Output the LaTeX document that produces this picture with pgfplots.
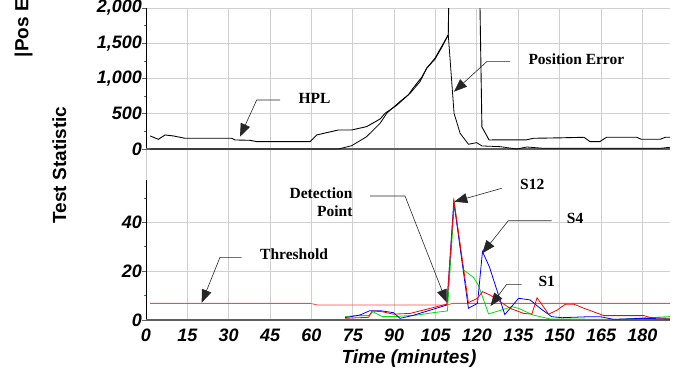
\documentclass[border=0pt]{standalone}
\usepackage{fontspec}
\setmainfont{Liberation Sans}
\newfontfamily\tnr{Liberation Serif}
\usepackage{pgfplots}
\pgfplotsset{compat=1.18}
\usetikzlibrary{arrows.meta}
\definecolor{gridc}{RGB}{208,208,208}
\definecolor{axc}{RGB}{95,95,95}
\definecolor{sred}{RGB}{255,0,0}
\definecolor{sblue}{RGB}{0,0,255}
\definecolor{sgreen}{RGB}{0,225,0}
\definecolor{thr}{RGB}{255,70,70}
\newcommand\tickfont{\fontsize{18}{18}\selectfont\bfseries\itshape}
\newcommand\annfont{\tnr\bfseries\fontsize{15.5}{18}\selectfont}

\pgfplotstableread{
x y
1.5 185
4.5 137
6.9 199
9.9 185
14.1 152
31.1 152
32.3 128
37.7 123
40.2 104
59.5 104
61.9 199
69.8 270
74.6 270
80 317
84.9 426
86.7 507
90.9 620
95.1 767
97 871
100 1018
101.8 1147
104.8 1288
107.2 1453
109.6 1620
110.1 3000
120.7 3000
121.8 313
124.4 128
138 130
140.5 152
150 158
158.8 166
161 104
164.5 104
167 166
178 166
179.5 138
186.5 138
188.3 166
190 166
}\hpl

\pgfplotstableread{
x y
1.5 0
69.8 0
74.6 47
80 175
84.9 365
87.3 507
92.1 673
95.8 791
99.4 957
101.8 1147
104.8 1275
107.2 1438
109.6 1620
111.7 507
113.9 223
116.9 67
119.9 90
121.8 43
128.4 33
134.4 0
138.1 28
144.1 10
186.5 10
190 24
}\poserr

\pgfplotstableread{
x y
1.5 6.8
59.5 6.8
62.5 6.1
109.3 6.1
111 6.8
190 6.8
}\thresh

\pgfplotstableread{
x y
72.2 0.95
77.6 2.05
81.2 3.82
84.9 3.82
89.7 3.0
92.1 0.68
96.9 1.9
109.1 6.14
111.6 48.5
116.9 4.8
120.2 6.8
122 28
124.5 21.8
130.1 2.2
135.1 8.9
139.3 8.2
142.9 4.8
147.1 1.36
150.8 0.95
161 1.36
164.7 1.36
169.5 0.27
180.4 0.68
190 0.41
}\sfour

\pgfplotstableread{
x y
72.2 0.7
80.7 1.1
82 3.7
85.6 3.4
89.7 2.4
95.8 2.7
109.1 6.5
111.7 48.6
116.9 7.1
120.2 8.9
122 11.6
124.8 10.2
132 4.8
136.9 2.7
139.9 2.4
141.8 9.1
146 2.4
149 4.0
152 6.4
155.1 6.5
158.8 4.8
166 1.8
180.5 1.8
182.9 1.0
190 0.7
}\stwelve

\pgfplotstableread{
x y
72.2 1.4
76.4 1.8
80.7 1.8
82.3 3.4
85.6 1.4
89.7 1.4
98.1 2.0
104.8 3.1
109.3 3.7
111.8 47.6
115.1 20.5
118.7 17.5
120.5 14.3
124.2 2.5
129 4.1
132.6 5.5
135 4.8
140.5 2.0
146.7 0.4
171 0.3
190 1.4
}\sone

\pgfplotsset{
  common/.style={
    scale only axis, width=524pt, anchor=south west,
    xmin=0, xmax=190,
    axis line style={draw=none},
    xtick={0,15,...,180},
    xmajorgrids, ymajorgrids,
    grid style={gridc, line width=1pt},
    tick align=outside, ytick pos=left, xtick pos=bottom,
    major tick length=4pt, minor tick length=2pt,
    tick style={axc, line width=0.5pt},
    xtick style={draw=none},
    /pgf/number format/assume math mode=true,
    yticklabel style={font=\tickfont, inner sep=0pt},
    xticklabel style={font=\tickfont, inner sep=0pt, yshift=-5pt},
  }
}

\begin{document}
\begin{tikzpicture}
\begin{axis}[common, at={(146pt,193pt)}, height=172pt,
  ymin=-440, ymax=2000,
  xticklabels={},
  ytick={0,500,1000,1500,2000},
  yticklabels={0,500,{1,000},{1,500},{2,000}},
  minor ytick={250,750,1250,1750}]
  \draw[black, line width=1pt] (axis cs:0,0) -- (axis cs:0,2000);
  \draw[axc, line width=1.1pt] (axis cs:0,0) -- (axis cs:190,0);
  \addplot[black, line width=0.8pt] table {\poserr};
  \addplot[black, line width=0.9pt] table {\hpl};
\end{axis}
\begin{axis}[common, at={(146pt,53pt)}, height=140pt,
  ymin=0, ymax=57.3,
  ytick={0,20,40},
  minor ytick={10,30,50}]
  \draw[black, line width=1pt] (axis cs:0,0) -- (axis cs:0,57.3);
  \draw[axc, line width=1.2pt] (axis cs:0,0) -- (axis cs:190,0);
  \addplot[thr, line width=0.8pt] table {\thresh};
  \addplot[sgreen, line width=0.8pt] table {\sone};
  \addplot[sblue, line width=0.8pt] table {\sfour};
  \addplot[sred, line width=0.8pt] table {\stwelve};
\end{axis}
\begin{scope}[shift={(0pt,373pt)}, x=1pt, y=-1pt]
  \tikzset{lead/.style={black!85, line width=0.6pt, -{Triangle[length=13pt,width=10pt]}}}
  % annotations
  \node[anchor=base west, inner sep=0pt, font=\annfont] at (528.3,65) {Position Error};
  \draw[lead] (510,61.7) -- (486.7,61.7) -- (454,91.7);
  \node[anchor=base west, inner sep=0pt, font=\annfont] at (298.3,103.3) {HPL};
  \draw[lead] (280,100) -- (256.7,100) -- (240,136.7);
  \node[anchor=base west, inner sep=0pt, font=\annfont] at (260,259.3) {Threshold};
  \draw[lead] (241.7,257.3) -- (220,257.3) -- (201.7,302.7);
  \node[anchor=base east, inner sep=0pt, font=\annfont] at (352.7,198) {Detection};
  \node[anchor=base east, inner sep=0pt, font=\annfont] at (352.7,216) {Point};
  \draw[lead] (370,196) -- (405,196) -- (446.7,302.5);
  \node[anchor=base west, inner sep=0pt, font=\annfont] at (520,190) {S12};
  \draw[lead] (501.7,188.3) -- (454.3,201.7);
  \node[anchor=base west, inner sep=0pt, font=\annfont] at (566.7,223.3) {S4};
  \draw[lead] (551.7,220.7) -- (508.3,220.7) -- (482.3,253.3);
  \node[anchor=base west, inner sep=0pt, font=\annfont] at (538.3,286.7) {S1};
  \draw[lead] (521.7,284.3) -- (506.7,284.3) -- (490.5,306);
  % axis labels
  \node[anchor=base, inner sep=0pt, font=\fontsize{19}{19}\selectfont\bfseries\itshape] at (409,363) {Time (minutes)};
  \node[anchor=base, rotate=90, inner sep=0pt, font=\fontsize{19}{19}\selectfont\bfseries] at (66,165) {Test Statistic};
  \node[anchor=base west, rotate=90, inner sep=0pt, font=\fontsize{19}{19}\selectfont\bfseries] at (28.5,57.3) {\textbar Pos Error\textbar{} (m)};
\end{scope}
\pgfresetboundingbox
\path[use as bounding box] (0pt,0pt) rectangle (678pt,373pt);
\end{tikzpicture}
\end{document}
